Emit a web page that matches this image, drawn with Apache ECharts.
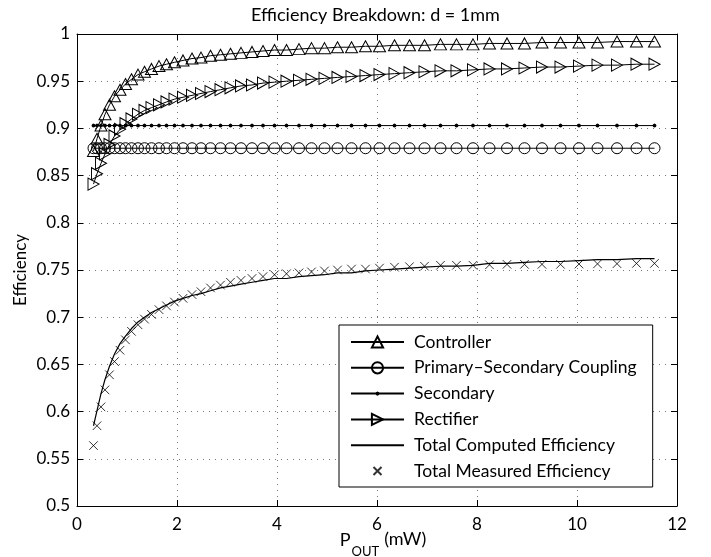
<!DOCTYPE html>
<html>
<head>
<meta charset="utf-8">
<script src="https://cdn.jsdelivr.net/npm/echarts@6/dist/echarts.min.js"></script>
<style>
  html, body { margin: 0; padding: 0; background: #fff; }
  #chart { width: 711px; height: 557px; }
</style>
</head>
<body>
<div id="chart"></div>
<script>
// output power (mW), same sample points for every curve
const pout = [0.33, 0.40, 0.48, 0.56, 0.65, 0.75, 0.86, 0.97, 1.09, 1.22,
  1.35, 1.49, 1.64, 1.79, 1.95, 2.12, 2.30, 2.48, 2.67, 2.87,
  3.07, 3.28, 3.50, 3.72, 3.95, 4.19, 4.44, 4.69, 4.95, 5.21,
  5.49, 5.77, 6.05, 6.35, 6.65, 6.95, 7.27, 7.59, 7.92, 8.25,
  8.60, 8.95, 9.30, 9.67, 10.04, 10.41, 10.80, 11.19, 11.55]

const controller = [0.876, 0.889, 0.903, 0.915, 0.925, 0.934, 0.941, 0.947, 0.952, 0.957,
  0.960, 0.963, 0.966, 0.968, 0.970, 0.972, 0.974, 0.975, 0.977, 0.978,
  0.979, 0.980, 0.981, 0.982, 0.983, 0.983, 0.984, 0.985, 0.985, 0.986,
  0.986, 0.987, 0.987, 0.988, 0.988, 0.988, 0.989, 0.989, 0.989, 0.990,
  0.990, 0.990, 0.991, 0.991, 0.991, 0.991, 0.992, 0.992, 0.992]

const coupling = [0.879, 0.879, 0.879, 0.879, 0.879, 0.879, 0.879, 0.879, 0.879, 0.879,
  0.879, 0.879, 0.879, 0.879, 0.879, 0.879, 0.879, 0.879, 0.879, 0.879,
  0.879, 0.879, 0.879, 0.879, 0.879, 0.879, 0.879, 0.879, 0.879, 0.879,
  0.879, 0.879, 0.879, 0.879, 0.879, 0.879, 0.879, 0.879, 0.879, 0.879,
  0.879, 0.879, 0.879, 0.879, 0.879, 0.879, 0.879, 0.879, 0.879]

const secondary = [0.903, 0.903, 0.903, 0.903, 0.903, 0.903, 0.903, 0.903, 0.903, 0.903,
  0.903, 0.903, 0.903, 0.903, 0.903, 0.903, 0.903, 0.903, 0.903, 0.903,
  0.903, 0.903, 0.903, 0.903, 0.903, 0.903, 0.903, 0.903, 0.903, 0.903,
  0.903, 0.903, 0.903, 0.903, 0.903, 0.903, 0.903, 0.903, 0.903, 0.903,
  0.903, 0.903, 0.903, 0.903, 0.903, 0.903, 0.903, 0.903, 0.903]

const rectifier = [0.841, 0.852, 0.863, 0.873, 0.883, 0.892, 0.899, 0.905, 0.910, 0.915,
  0.919, 0.922, 0.925, 0.928, 0.931, 0.933, 0.935, 0.937, 0.939, 0.941,
  0.943, 0.945, 0.946, 0.948, 0.949, 0.950, 0.951, 0.952, 0.953, 0.954,
  0.955, 0.956, 0.957, 0.958, 0.959, 0.960, 0.961, 0.961, 0.962, 0.963,
  0.963, 0.964, 0.965, 0.965, 0.966, 0.967, 0.967, 0.968, 0.968]

const totalComputed = [0.585, 0.601, 0.619, 0.634, 0.648, 0.661, 0.672, 0.680, 0.688, 0.695,
  0.700, 0.705, 0.709, 0.713, 0.717, 0.720, 0.723, 0.725, 0.728, 0.731,
  0.733, 0.735, 0.737, 0.739, 0.741, 0.741, 0.743, 0.744, 0.745, 0.747,
  0.747, 0.749, 0.750, 0.751, 0.752, 0.753, 0.754, 0.754, 0.755, 0.757,
  0.757, 0.758, 0.759, 0.759, 0.760, 0.761, 0.761, 0.762, 0.762]

const totalMeasured = [0.564, 0.585, 0.605, 0.623, 0.639, 0.653, 0.665, 0.676, 0.685, 0.692,
  0.698, 0.703, 0.708, 0.712, 0.716, 0.720, 0.724, 0.727, 0.731, 0.734,
  0.737, 0.739, 0.741, 0.743, 0.745, 0.746, 0.747, 0.748, 0.749, 0.750,
  0.751, 0.751, 0.752, 0.753, 0.7535, 0.754, 0.755, 0.755, 0.755, 0.7555,
  0.756, 0.756, 0.756, 0.756, 0.7563, 0.7565, 0.7567, 0.757, 0.757]

const seriesNames = ['Controller', 'Primary\u2013Secondary Coupling', 'Secondary', 'Rectifier',
  'Total Computed Efficiency', 'Total Measured Efficiency']

function pairs(ys) {
  return pout.map((x, i) => [x, ys[i]])
}

const FONT = 'Lato'
const hollow = { color: 'rgba(0,0,0,0)', borderColor: '#000', borderWidth: 1 }
const blackLine = { color: '#000', width: 1 }
const gridLine = { show: true, lineStyle: { color: '#777', type: [1, 5], width: 1 } }
const inTick = { show: true, inside: true, length: 6, lineStyle: { color: '#000' } }
const box = { show: true, onZero: false, lineStyle: { color: '#000', width: 1 } }

// marks drawn inside a padded box (zero-area corners), so the legend icons stay small too
const dotSymbol = 'path://M0,0L0.01,0M11,11L11.01,11M7.5,5.5L6.91,6.91L5.5,7.5L4.09,6.91L3.5,5.5L4.09,4.09L5.5,3.5L6.91,4.09Z'
const crossSymbol = 'path://M0,0L0.01,0M14,14L14.01,14M3,3L11,11M11,3L3,11'

const chart = echarts.init(document.getElementById('chart'))

chart.setOption({
  backgroundColor: '#fff',
  animation: false,
  textStyle: { fontFamily: FONT, color: '#000' },
  title: {
    text: 'Efficiency Breakdown: d = 1mm',
    left: 246,
    top: 1,
    textStyle: { fontFamily: FONT, fontSize: 18, fontWeight: 'normal', color: '#000' }
  },
  grid: { left: 77, right: 34, top: 34, bottom: 51, outerBoundsMode: 'none' },
  legend: {
    orient: 'vertical',
    left: 339,
    top: 325,
    data: seriesNames,
    itemWidth: 53,
    itemHeight: 14,
    itemGap: 7.8,
    padding: [8, 16, 7, 11],
    backgroundColor: '#fff',
    borderColor: '#000',
    borderWidth: 1,
    textStyle: { fontFamily: FONT, fontSize: 17.5, color: '#000', padding: [0, 0, 0, 5] }
  },
  xAxis: [{
    type: 'value',
    min: 0,
    max: 12,
    interval: 2,
    name: '{p|P}{sub|OUT}{n|(mW)}',
    nameLocation: 'middle',
    nameGap: 31,
    nameMoveOverlap: false,
    nameTextStyle: {
      rich: {
        p: { fontFamily: FONT, fontSize: 18, color: '#000', lineHeight: 18, padding: [0, 0, 11, 12] },
        sub: { fontFamily: FONT, fontSize: 13, color: '#000', lineHeight: 14, padding: [11, 5, 0, 1] },
        n: { fontFamily: FONT, fontSize: 18, color: '#000', lineHeight: 18, padding: [0, 0, 14, 0] }
      }
    },
    axisLine: box,
    axisTick: inTick,
    axisLabel: { fontFamily: FONT, fontSize: 17, color: '#000', margin: 10 },
    splitLine: gridLine
  }, {
    type: 'value',
    position: 'top',
    min: 0,
    max: 12,
    interval: 2,
    axisLine: box,
    axisTick: inTick,
    axisLabel: { show: false },
    splitLine: { show: false }
  }],
  yAxis: [{
    type: 'value',
    min: 0.5,
    max: 1,
    interval: 0.05,
    name: 'Efficiency',
    nameLocation: 'middle',
    nameGap: 48,
    nameMoveOverlap: false,
    nameTextStyle: { fontFamily: FONT, fontSize: 17, color: '#000' },
    axisLine: box,
    axisTick: inTick,
    axisLabel: { fontFamily: FONT, fontSize: 17, color: '#000', margin: 7 },
    splitLine: gridLine
  }, {
    type: 'value',
    position: 'right',
    min: 0.5,
    max: 1,
    interval: 0.05,
    axisLine: box,
    axisTick: inTick,
    axisLabel: { show: false },
    splitLine: { show: false }
  }],
  series: [
    {
      name: seriesNames[0],
      type: 'line',
      data: pairs(controller),
      symbol: 'triangle',
      symbolSize: [12, 11],
      showAllSymbol: true,
      itemStyle: hollow,
      lineStyle: blackLine
    },
    {
      name: seriesNames[1],
      type: 'line',
      data: pairs(coupling),
      symbol: 'circle',
      symbolSize: 11,
      showAllSymbol: true,
      itemStyle: hollow,
      lineStyle: blackLine
    },
    {
      name: seriesNames[2],
      type: 'line',
      data: pairs(secondary),
      symbol: dotSymbol,
      symbolSize: 11,
      showAllSymbol: true,
      itemStyle: { color: '#000', borderWidth: 0 },
      lineStyle: blackLine
    },
    {
      name: seriesNames[3],
      type: 'line',
      data: pairs(rectifier),
      symbol: 'triangle',
      symbolRotate: -90,
      symbolSize: [12, 11],
      showAllSymbol: true,
      itemStyle: hollow,
      lineStyle: blackLine
    },
    {
      name: seriesNames[4],
      type: 'line',
      data: pairs(totalComputed),
      showSymbol: false,
      symbol: 'none',
      itemStyle: { color: 'rgba(0,0,0,0)', borderWidth: 0 },
      lineStyle: { color: '#000', width: 1.2 }
    },
    {
      name: seriesNames[5],
      type: 'scatter',
      data: pairs(totalMeasured),
      symbol: crossSymbol,
      symbolSize: 15,
      itemStyle: hollow
    }
  ]
})
</script>
</body>
</html>
